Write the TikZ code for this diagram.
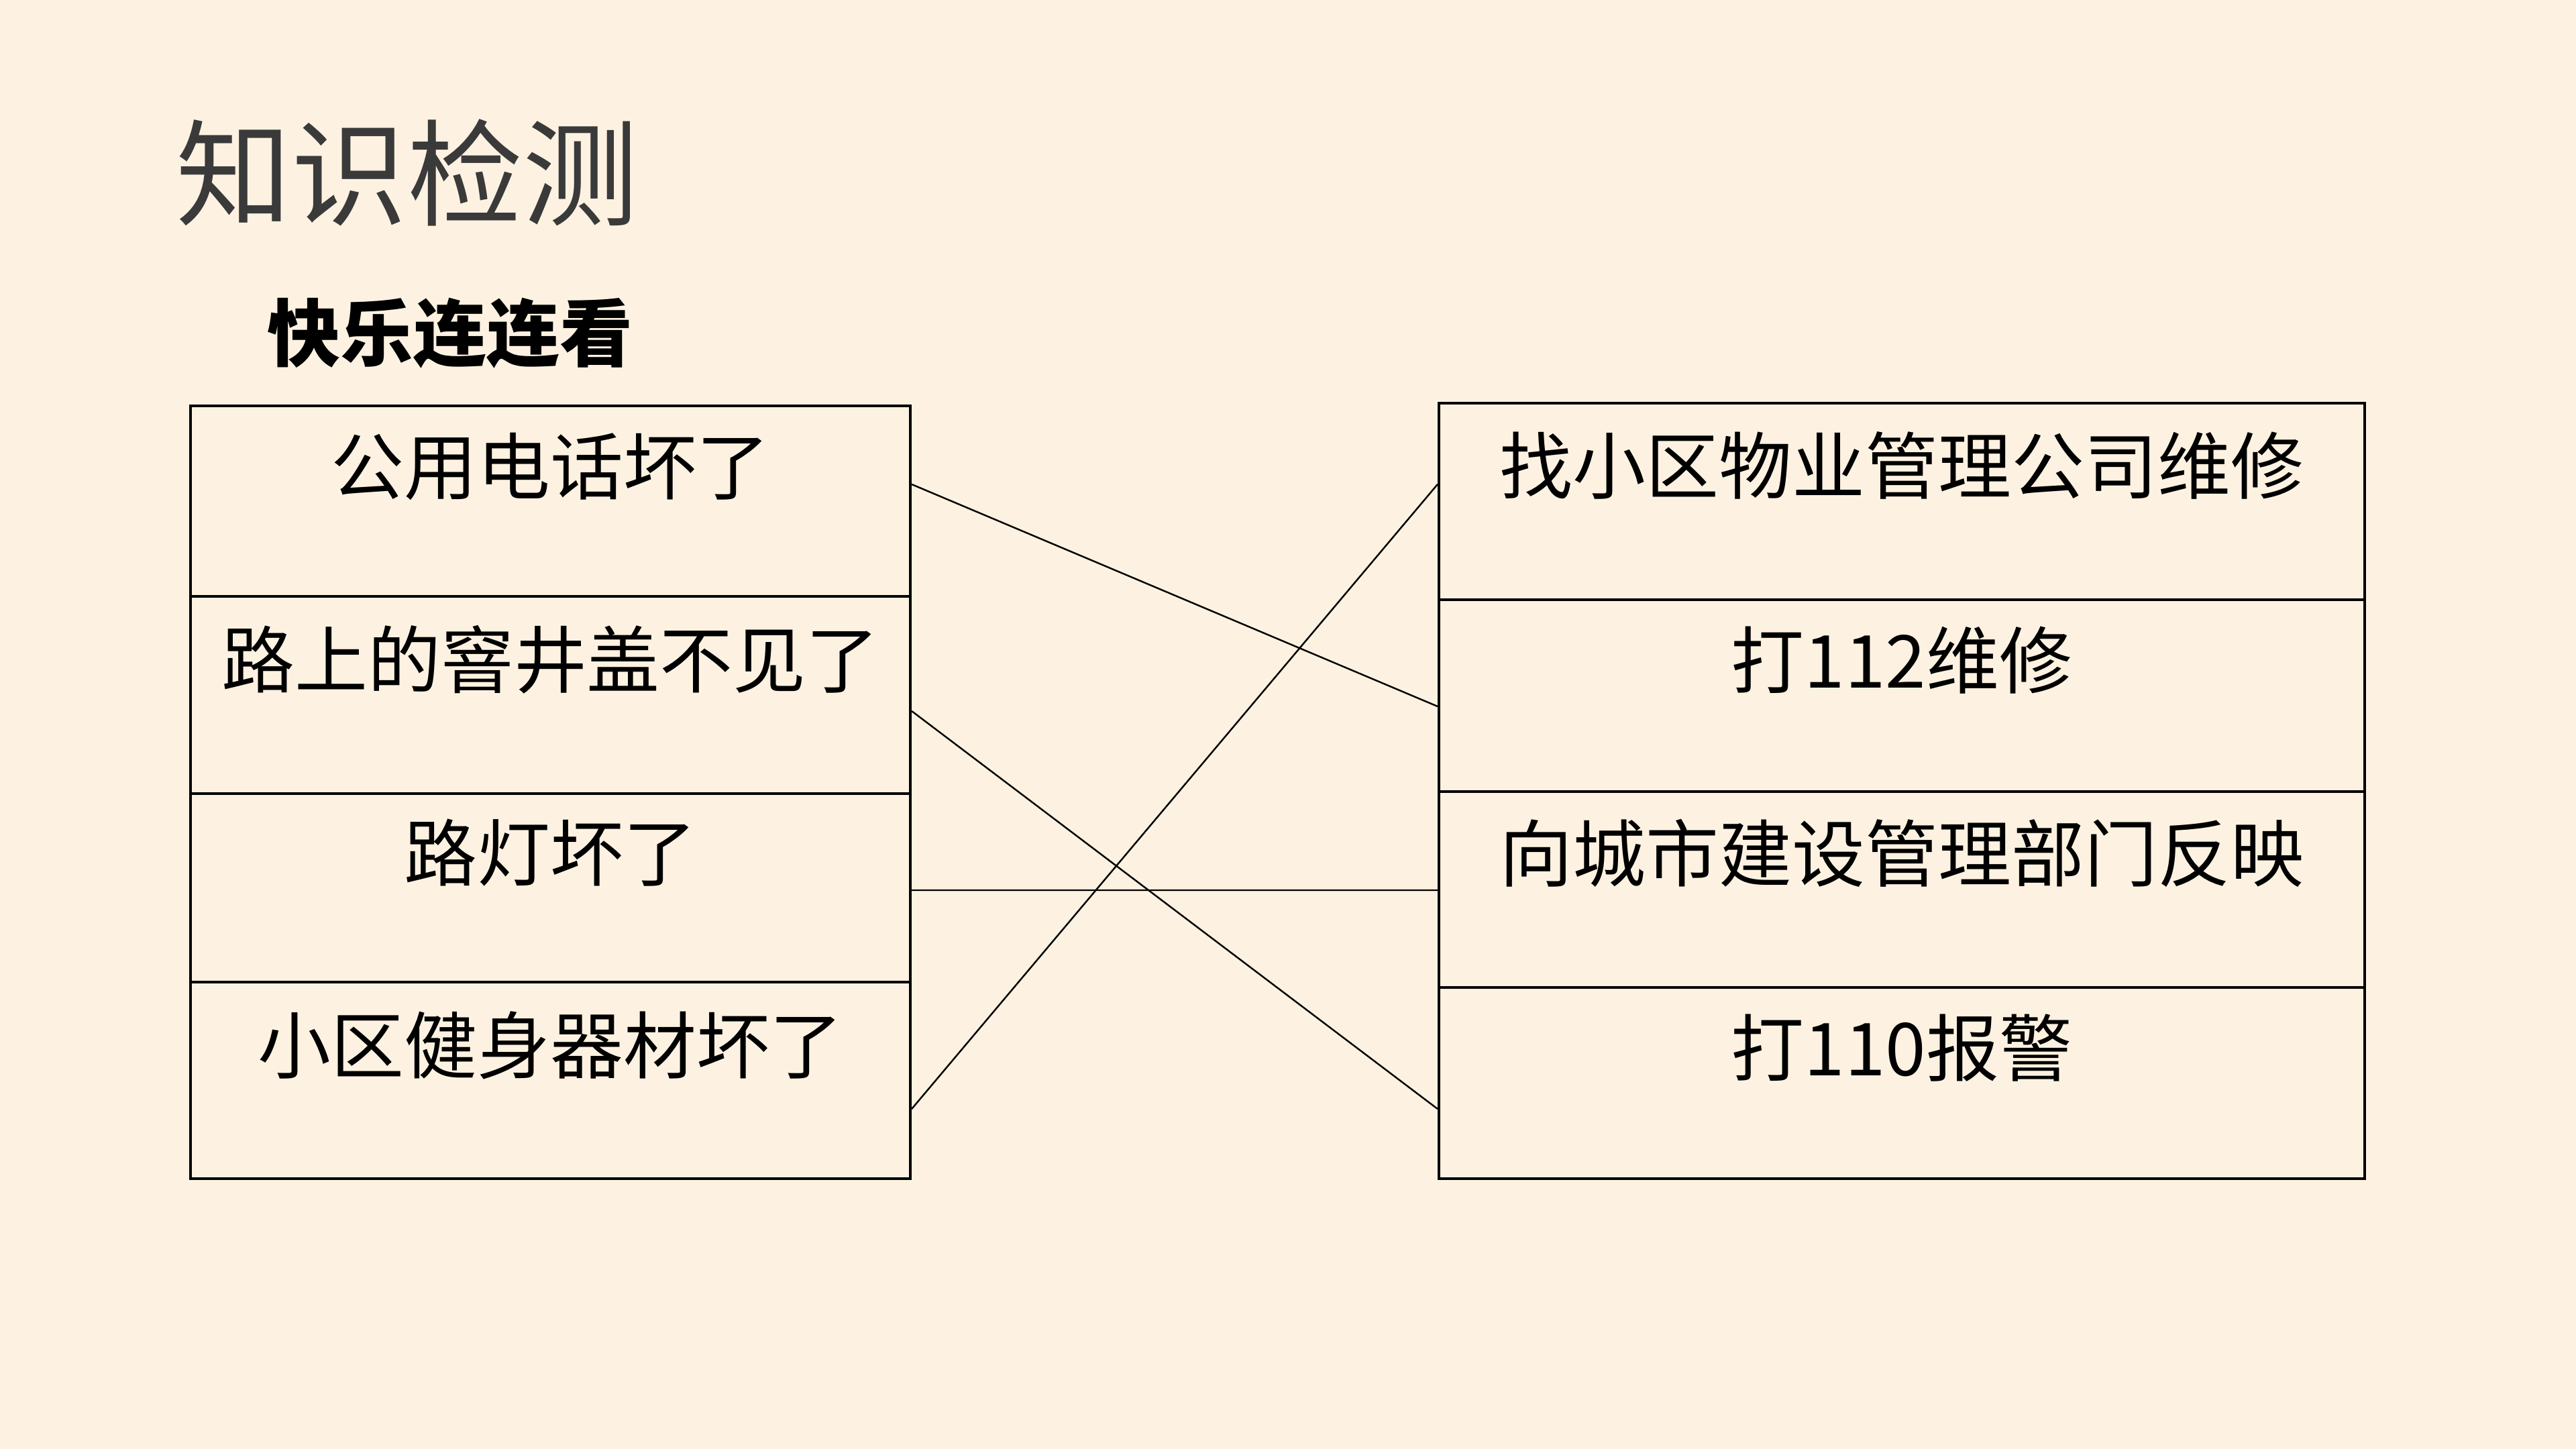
\documentclass[tikz,border=0pt]{standalone}
\usepackage{fontspec}
\setmainfont{Noto Sans CJK SC}
\usepackage{tikz}
\usetikzlibrary{positioning,calc}
\usepackage{xcolor}
\definecolor{PaperCream}{RGB}{253,242,225}
\definecolor{TitleGray}{RGB}{58,58,58}

\begin{document}
\begin{tikzpicture}[
  lcell/.style={draw=black,line width=1.2pt,minimum width=10.73cm,inner sep=0pt},
  rcell/.style={draw=black,line width=1.2pt,minimum width=13.8cm,inner sep=0pt},
  celltext/.style={font=\fontsize{31}{37}\selectfont,inner sep=0pt},
  match/.style={draw=black,line width=0.7pt},
]
\fill[PaperCream] (0,0) rectangle (38.4,-21.6);
\useasboundingbox (0,0) rectangle (38.4,-21.6);

% headings
\node[anchor=west,text=TitleGray,font=\fontsize{49}{58}\selectfont,inner sep=0pt] (title) at (2.62,-2.57) {知识检测};
\node[anchor=west,font=\fontsize{31}{37}\selectfont\bfseries,inner sep=0pt] (sub) at (3.98,-4.97) {快乐连连看};

% left column: situations
\node[lcell,minimum height=2.84cm] (l1) at (8.205,-7.47) {};
\node[lcell,minimum height=2.94cm] (l2) at (8.205,-10.36) {};
\node[lcell,minimum height=2.81cm] (l3) at (8.205,-13.235) {};
\node[lcell,minimum height=2.93cm] (l4) at (8.205,-16.105) {};
\node[celltext] (l1t) at ([yshift=-0.93cm]l1.north) {公用电话坏了};
\node[celltext] (l2t) at ([yshift=-0.96cm]l2.north) {路上的窨井盖不见了};
\node[celltext] (l3t) at ([yshift=-0.90cm]l3.north) {路灯坏了};
\node[celltext] (l4t) at ([yshift=-0.96cm]l4.north) {小区健身器材坏了};

% right column: what to do
\node[rcell,minimum height=2.93cm] (r1) at (28.35,-7.475) {};
\node[rcell,minimum height=2.86cm] (r2) at (28.35,-10.37) {};
\node[rcell,minimum height=2.92cm] (r3) at (28.35,-13.26) {};
\node[rcell,minimum height=2.85cm] (r4) at (28.35,-16.145) {};
\node[celltext] (r1t) at ([yshift=-0.95cm]r1.north) {找小区物业管理公司维修};
\node[celltext] (r2t) at ([yshift=-0.92cm]r2.north) {打112维修};
\node[celltext] (r3t) at ([yshift=-0.94cm]r3.north) {向城市建设管理部门反映};
\node[celltext] (r4t) at ([yshift=-0.92cm]r4.north) {打110报警};

% answers
\draw[match] ([yshift=0.25cm]l1.east) -- ([yshift=-0.16cm]r2.west);
\draw[match] ([yshift=-0.24cm]l2.east) -- ([yshift=-0.385cm]r4.west);
\draw[match] ([yshift=-0.035cm]l3.east) -- ([yshift=-0.01cm]r3.west);
\draw[match] ([yshift=-0.425cm]l4.east) -- ([yshift=0.255cm]r1.west);
\end{tikzpicture}
\end{document}
